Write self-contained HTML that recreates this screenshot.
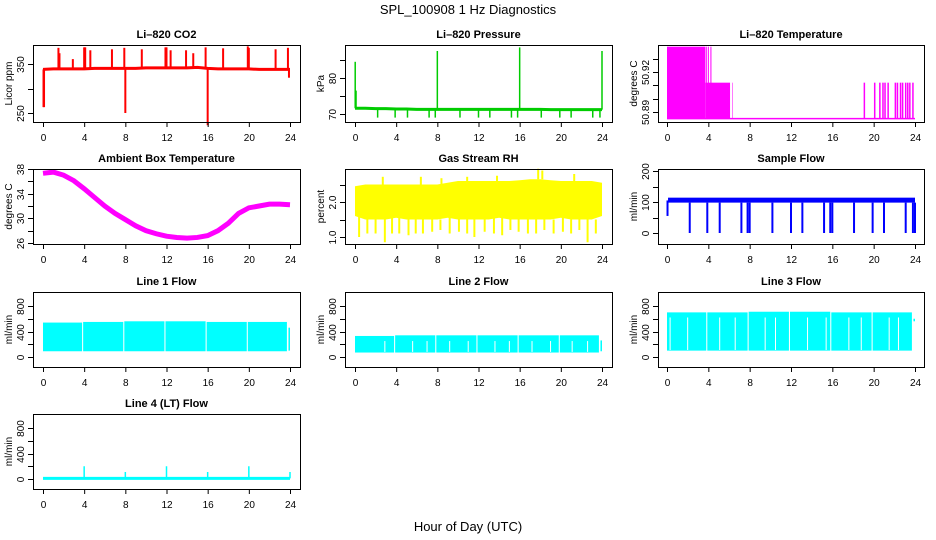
<!DOCTYPE html>
<html><head><meta charset="utf-8"><style>
body{margin:0;background:#fff}
svg{display:block;font-family:"Liberation Sans",sans-serif}
</style></head><body>
<svg id="c" width="936" height="540" viewBox="0 0 936 540">
<text x="468" y="14" text-anchor="middle" font-size="13">SPL_100908  1 Hz Diagnostics</text>
<text x="468" y="531" text-anchor="middle" font-size="13">Hour of Day (UTC)</text>
</svg>
<script>
const xTicks=[0,4,8,12,16,20,24];
// CO2
const co2Base=[339,340,340,340,340,341,341,341,341,341,342,342,342,342,342,343,341,340,340,340,340,339,339,339,339];
const co2SpikeHours=[1.5,1.6,2.9,4.0,4.1,4.6,6.7,7.9,9.6,11.9,12.0,12.4,13.9,14.6,15.8,17.5,19.9,20.0,22.6,23.8];
const co2SpikeVals=[383,372,360,384,384,378,380,383,380,384,384,378,378,372,384,382,386,383,380,383];
const co2DipHours=[0.05,0.1,8.0,16.0,23.9];
const co2DipVals=[262,262,250,225,322];
// Pressure
const presBase=[71.6,71.6,71.5,71.5,71.4,71.4,71.3,71.3,71.3,71.3,71.3,71.3,71.3,71.3,71.3,71.3,71.3,71.3,71.3,71.2,71.2,71.2,71.2,71.2,71.2];
const presDipHours=[2.2,3.9,5.1,7.2,7.8,10.2,12.0,13.1,15.2,15.8,18.1,19.9,21.0,23.1,23.8];
const presDipVals=[69,69,69,69,69,69,69,69,69,69,69,69,69,69,69];
const presSpikeHours=[0.02,0.1,8.0,16.0,24.0];
const presSpikeVals=[84.5,76.5,87.5,88.5,87.5];
// Li-820 temperature
const tempLow=50.885;
const tempBlockStart=[0,3.75,3.95,4.2,3.7,6.3];
const tempBlockEnd=[3.7,3.85,4.05,4.3,6.1,6.35];
const tempBlockVals=[50.939,50.939,50.939,50.939,50.912,50.912];
const tempSpikeHours=[19.1,20.1,20.6,20.9,21.1,21.4,22.1,22.3,22.6,22.8,23.1,23.3,23.5,23.8];
const tempSpikeVals=[50.912,50.912,50.912,50.912,50.912,50.912,50.912,50.912,50.912,50.912,50.912,50.912,50.912,50.912];
// Ambient box temperature
const ambHours=[0,1,2,3,4,5,6,7,8,9,10,11,12,13,14,15,16,17,18,19,20,21,22,23,24];
const ambVals=[37.3,37.5,37.0,36.1,34.8,33.4,32.0,30.8,29.8,28.8,28.0,27.5,27.1,26.9,26.8,26.9,27.2,28.0,29.2,30.8,31.7,32.0,32.3,32.3,32.2];
// Gas stream RH
const rhHi=[2.45,2.5,2.5,2.5,2.5,2.5,2.5,2.5,2.5,2.55,2.6,2.6,2.6,2.6,2.6,2.6,2.62,2.65,2.65,2.62,2.6,2.6,2.6,2.6,2.55];
const rhLo=[1.6,1.5,1.5,1.5,1.55,1.5,1.5,1.5,1.5,1.55,1.5,1.5,1.5,1.5,1.55,1.5,1.5,1.5,1.5,1.5,1.55,1.5,1.5,1.5,1.6];
const rhDipHours=[0.4,1.2,2.0,2.9,3.6,4.3,5.2,5.9,6.6,7.5,8.3,9.2,10.1,10.9,11.6,12.6,13.5,14.3,15.1,15.9,16.8,17.6,18.4,19.3,20.2,21.0,21.8,22.6,23.4];
const rhDipVals=[1.0,1.1,1.1,0.85,1.1,1.1,1.05,1.1,1.1,1.15,1.2,1.1,1.15,1.1,1.0,1.15,1.1,1.05,1.2,1.15,1.1,1.1,1.2,1.1,1.15,1.1,1.2,0.85,1.1];
const rhPeakHours=[2.7,6.4,8.4,10.9,13.8,17.8,18.2,21.3];
const rhPeakVals=[2.72,2.72,2.68,2.72,2.75,2.95,2.9,2.8];
// Sample flow
const sfLo=98, sfHi=114;
const sfDipHours=[2.2,3.9,5.1,7.2,7.8,8.0,10.2,12.0,13.1,15.2,15.8,16.0,18.1,19.9,21.0,23.1,23.8,24.0];
const sfDipVals=[0,0,0,0,0,0,0,0,0,0,0,0,0,0,0,0,0,0];
// Line flows
const segStart=[0,3.9,7.9,11.9,15.9,19.9,23.85];
const segEnd=[3.8,7.8,11.8,15.8,19.8,23.7,24.0];
const l1Hi=[540,550,560,560,550,550,460];
const l1Lo=[90,90,90,90,90,90,100];
const l2Hi=[330,340,340,340,340,340,260];
const l2Lo=[70,70,70,70,70,70,90];
const l3Hi=[700,700,710,710,700,700,600];
const l3Lo=[100,100,100,100,100,100,560];
const l2Notch=[2.9,5.6,7.0,9.2,11.0,13.6,15.0,17.2,19.0,21.1,22.6];
const l3Notch=[0.3,2.0,5.1,6.6,9.5,10.5,13.6,15.4,17.6,18.8,21.5,22.4];
const l4Base=10;
const l4SpikeHours=[4.0,8.0,12.0,16.0,20.0,24.0];
const l4SpikeVals=[200,110,200,110,200,110];

const NS='http://www.w3.org/2000/svg';
const svg=document.getElementById('c');
function el(tag,attrs,parent){const e=document.createElementNS(NS,tag);for(const k in attrs)e.setAttribute(k,attrs[k]);(parent||svg).appendChild(e);return e;}

const cols=[[33,300,43,290],[345,612,355,602],[658,924,667,915]];
const rows=[[45,122],[169,244],[292,367],[414,489]];

function panel(name,title,ci,ri,ylab,v0,p0,v1,p1,ticks,labels){
  const c=cols[ci],r=rows[ri];
  const g=el('g',{});
  
  
  const x=h=>c[2]+(h/24)*(c[3]-c[2]);
  const y=v=>p0+(v-v0)*(p1-p0)/(v1-v0);
  const plot=el('g',{},g);
  
  
  const box=el('rect',{x:c[0]+.5,y:r[0]+.5,width:c[1]-c[0],height:r[1]-r[0],fill:'none',stroke:'#000','stroke-width':1},g);
  
  
  const t=el('text',{x:(c[0]+c[1])/2,y:r[0]-7,'text-anchor':'middle','font-size':11,'font-weight':'bold'},g);
  t.textContent=title;
  
  
  const xa=el('g',{},g);
  
  
  el('line',{x1:x(0),x2:x(24),y1:r[1]+0.5,y2:r[1]+0.5,stroke:'#000'},xa);
  xTicks.forEach(h=>{
    el('line',{x1:x(h)+.5,x2:x(h)+.5,y1:r[1],y2:r[1]+5,stroke:'#000'},xa);
    const tl=el('text',{x:x(h)+.5,y:r[1]+19,'text-anchor':'middle','font-size':10},xa);
    tl.textContent=h;
    
    
  });
  const ya=el('g',{},g);
  
  
  el('line',{x1:c[0]+.5,x2:c[0]+.5,y1:y(ticks[0]),y2:y(ticks[ticks.length-1]),stroke:'#000'},ya);
  ticks.forEach((v,i)=>{
    const yy=Math.round(y(v))+.5;
    el('line',{x1:c[0]-5,x2:c[0],y1:yy,y2:yy,stroke:'#000'},ya);
    if(labels[i]){
      const tl=el('text',{x:c[0]-9,y:yy,'text-anchor':'middle','font-size':10,transform:`rotate(-90 ${c[0]-9} ${yy})`},ya);
      tl.textContent=labels[i];
      
      
    }
  });
  const yl=el('text',{x:c[0]-21,y:(r[0]+r[1])/2,'text-anchor':'middle','font-size':10,transform:`rotate(-90 ${c[0]-21} ${(r[0]+r[1])/2})`},g);
  yl.textContent=ylab;
  
  
  return {x,y,g:plot};
}
function vline(p,h,a,b,col,w){el('line',{x1:p.x(h),x2:p.x(h),y1:p.y(a),y2:p.y(b),stroke:col,'stroke-width':w||1.5},p.g);}
function poly(p,hs,vs,col,w,dash){const pts=hs.map((h,i)=>p.x(h)+','+p.y(vs[i])).join(' ');el('polyline',{points:pts,fill:'none',stroke:col,'stroke-width':w,'stroke-dasharray':dash||'none'},p.g);}
function band(p,s,e,lo,hi,col){el('rect',{x:p.x(s),y:p.y(hi),width:p.x(e)-p.x(s),height:p.y(lo)-p.y(hi),fill:col},p.g);}
const hrs=co2Base.map((_,i)=>i);

// CO2
let p=panel('co2','Li\u2013820 CO2',0,0,'Licor ppm',250,113,350,64,[250,300,350],['250','','350']);
poly(p,hrs,co2Base,'#f00',3);
co2SpikeHours.forEach((h,i)=>vline(p,h,co2Base[Math.round(h)],co2SpikeVals[i],'#f00',2));
co2DipHours.forEach((h,i)=>vline(p,h,co2Base[Math.round(h)],co2DipVals[i],'#f00',2));

// Pressure
p=panel('pressure','Li\u2013820 Pressure',1,0,'kPa',70,114,80,78,[70,75,80,85],['70','','80','']);
poly(p,hrs,presBase,'#0c0',3);
presDipHours.forEach((h,i)=>vline(p,h,presBase[Math.round(h)],presDipVals[i],'#0c0',1.5));
presSpikeHours.forEach((h,i)=>vline(p,h,presBase[Math.round(h)],presSpikeVals[i],'#0c0',1.5));

// Li-820 temperature
p=panel('li820-temp','Li\u2013820 Temperature',2,0,'degrees C',50.89,112,50.92,72,[50.89,50.90,50.91,50.92,50.93],['50.89','','','50.92','']);
poly(p,[0,24],[tempLow,tempLow],'#f0f',1.5);
tempBlockStart.forEach((s,i)=>band(p,s,tempBlockEnd[i],tempLow,tempBlockVals[i],'#f0f'));
tempSpikeHours.forEach((h,i)=>vline(p,h,tempLow,tempSpikeVals[i],'#f0f',1.5));

// Ambient
p=panel('ambient-temp','Ambient Box Temperature',0,1,'degrees C',26,243,38,169,[26,28,30,32,34,36,38],['26','','30','','34','','38']);
poly(p,ambHours,ambVals,'#f0f',5);

// RH
p=panel('gas-rh','Gas Stream RH',1,1,'percent',1.0,237,2.0,202,[1.0,1.5,2.0,2.5],['1.0','','2.0','']);
{const pts=[];hrs.forEach((h,i)=>pts.push(p.x(h)+','+p.y(rhHi[i])));for(let i=hrs.length-1;i>=0;i--)pts.push(p.x(hrs[i])+','+p.y(rhLo[i]));el('polygon',{points:pts.join(' '),fill:'#ff0'},p.g);}
rhDipHours.forEach((h,i)=>vline(p,h,rhLo[Math.round(h)],rhDipVals[i],'#ff0',2));
rhPeakHours.forEach((h,i)=>vline(p,h,rhHi[Math.round(h)],rhPeakVals[i],'#ff0',2));

// Sample flow
p=panel('sample-flow','Sample Flow',2,1,'ml/min',0,233,100,202,[0,50,100,150,200],['0','','100','','200']);
band(p,0.1,24,sfLo,sfHi,'#00f');
vline(p,0.05,55,105,'#00f',2);
sfDipHours.forEach((h,i)=>vline(p,h,sfLo,sfDipVals[i],'#00f',2));

// Flows
function flowPanel(name,title,ci,ri,hi,lo,notches){
  const r=rows[ri];
  const q=panel(name,title,ci,ri,'ml/min',0,r[1]-10,800,r[1]-61,[0,200,400,600,800],['0','','400','','800']);
  segStart.forEach((s,i)=>band(q,s,segEnd[i],lo[i],hi[i],'#0ff'));
  (notches||[]).forEach(h=>vline(q,h,lo[0]+10,hi[0]-80,'#fff',1));
  return q;
}
flowPanel('line1-flow','Line 1 Flow',0,2,l1Hi,l1Lo);
flowPanel('line2-flow','Line 2 Flow',1,2,l2Hi,l2Lo,l2Notch);
flowPanel('line3-flow','Line 3 Flow',2,2,l3Hi,l3Lo,l3Notch);
p=panel('line4-flow','Line 4 (LT) Flow',0,3,'ml/min',0,479,800,428,[0,200,400,600,800],['0','','400','','800']);
poly(p,[0,24],[l4Base,l4Base],'#0ff',3);
l4SpikeHours.forEach((h,i)=>vline(p,h,l4Base,l4SpikeVals[i],'#0ff',1.5));
</script>
</body></html>
